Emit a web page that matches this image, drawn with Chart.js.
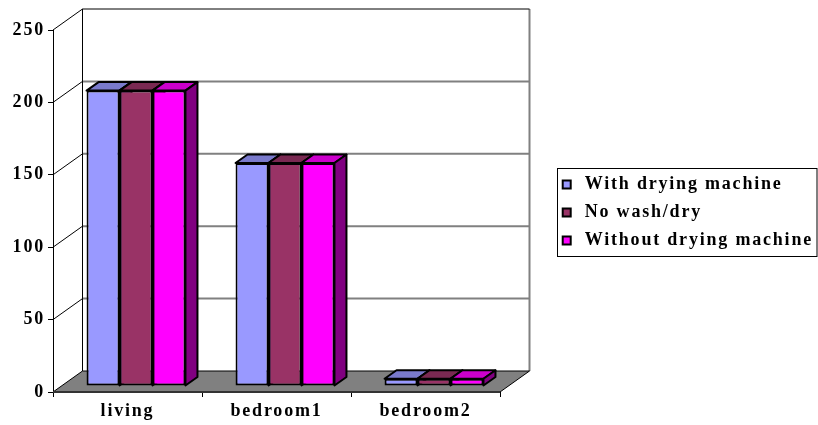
<!DOCTYPE html>
<html>
<head>
<meta charset="utf-8">
<script src="https://cdn.jsdelivr.net/npm/chart.js@4.4.1/dist/chart.umd.min.js"></script>
<style>
  html, body { margin: 0; padding: 0; background: #fff; }
  #wrap { width: 818px; height: 425px; }
</style>
</head>
<body>
<div id="wrap"><canvas id="chart" width="818" height="425"></canvas></div>
<script>
const categories = ['living', 'bedroom1', 'bedroom2'];
const seriesLabels = ['With drying machine', 'No wash/dry', 'Without drying machine'];
const withDrying = [204, 154, 5];
const noWashDry = [204, 154, 5];
const withoutDrying = [204, 154, 5];
const yTicks = [0, 50, 100, 150, 200, 250];

const frontColors = ['#9999FF', '#993366', '#FF00FF'];
const topColors = ['#7A7ACC', '#7A2952', '#CC00CC'];
const sideColors = ['#4C4C80', '#4C1933', '#800080'];

// oblique depth of the whole box, and where the bars sit inside it
const DEPTH_X = 29.5, DEPTH_Y = -21;
const BAR_SHIFT_X = 8.5, BAR_SHIFT_Y = -6;
const BAR_DEPTH_X = 12, BAR_DEPTH_Y = -8.5;
const SPACING = '1.8px';
const labelFont = { family: '"Liberation Serif", "Times New Roman", serif', size: 18, weight: 'bold' };

const line = (ctx, x1, y1, x2, y2) => {
  ctx.beginPath();
  ctx.moveTo(x1, y1);
  ctx.lineTo(x2, y2);
  ctx.stroke();
};

const poly = (ctx, pts, fill) => {
  ctx.beginPath();
  pts.forEach(([px, py], i) => (i ? ctx.lineTo(px, py) : ctx.moveTo(px, py)));
  ctx.closePath();
  ctx.fillStyle = fill;
  ctx.fill();
  ctx.stroke();
};

// wide letter spacing for every label
const spacingPlugin = {
  id: 'spacing',
  beforeUpdate(chart) { chart.ctx.letterSpacing = SPACING; },
  beforeLayout(chart) { chart.ctx.letterSpacing = SPACING; },
  beforeDraw(chart) { chart.ctx.letterSpacing = SPACING; }
};

// walls, floor and the top/side faces of the bars
const box3d = {
  id: 'box3d',
  beforeDatasetsDraw(chart) {
    const { ctx, chartArea: a, scales: { y } } = chart;
    const L = a.left, R = a.right, B = a.bottom;
    const bl = L + DEPTH_X, br = R + DEPTH_X;
    const bt = y.getPixelForValue(yTicks[yTicks.length - 1]) + DEPTH_Y;
    const bb = B + DEPTH_Y;

    ctx.save();
    ctx.fillStyle = '#fff';
    ctx.fillRect(bl, bt, br - bl, bb - bt);

    ctx.strokeStyle = '#808080';
    ctx.lineWidth = 2;
    yTicks.slice(1, -1).forEach(v => {
      const py = y.getPixelForValue(v) + DEPTH_Y;
      line(ctx, bl, py, br, py);
    });
    line(ctx, br, bt, br, bb);

    ctx.strokeStyle = '#000';
    ctx.lineWidth = 1;
    line(ctx, bl, bt, br, bt);
    line(ctx, bl, bt, bl, bb);
    yTicks.slice(1).forEach(v => {
      const py = y.getPixelForValue(v);
      line(ctx, L, py, L + DEPTH_X, py + DEPTH_Y);
    });

    // floor
    ctx.beginPath();
    ctx.moveTo(L, B);
    ctx.lineTo(R, B);
    ctx.lineTo(br, bb);
    ctx.lineTo(bl, bb);
    ctx.closePath();
    ctx.fillStyle = '#808080';
    ctx.fill();
    ctx.strokeStyle = '#000';
    ctx.stroke();
    ctx.strokeStyle = '#333';
    ctx.lineWidth = 2;
    line(ctx, L, B, R, B);

    ctx.lineWidth = 2;
    ctx.lineJoin = 'round';
    ctx.strokeStyle = '#000';
    categories.forEach((c, i) => {
      chart.data.datasets.forEach((ds, d) => {
        const bar = chart.getDatasetMeta(d).data[i];
        const x1 = bar.x - bar.width / 2 + BAR_SHIFT_X;
        const x2 = bar.x + bar.width / 2 + BAR_SHIFT_X;
        const top = bar.y + BAR_SHIFT_Y;
        const bot = bar.base + BAR_SHIFT_Y;
        poly(ctx, [[x1, top], [x2, top], [x2 + BAR_DEPTH_X, top + BAR_DEPTH_Y], [x1 + BAR_DEPTH_X, top + BAR_DEPTH_Y]], topColors[d]);
        poly(ctx, [[x2, top], [x2 + BAR_DEPTH_X, top + BAR_DEPTH_Y], [x2 + BAR_DEPTH_X, bot + BAR_DEPTH_Y], [x2, bot]], sideColors[d]);
      });
    });
    ctx.restore();

    // front faces come from Chart.js, pushed back into the box
    ctx.save();
    ctx.translate(BAR_SHIFT_X, BAR_SHIFT_Y);
  },
  afterDatasetsDraw(chart) {
    chart.ctx.restore();
  },
  afterDraw(chart) {
    const { ctx, legend } = chart;
    const hb = legend.legendHitBoxes;
    if (!hb || !hb.length) return;
    const last = hb[hb.length - 1];
    const left = Math.round(hb[0].left) - 0.5;
    const top = Math.round(hb[0].top) - 7.5;
    const bottom = Math.round(last.top + last.height) + 6.5;
    ctx.save();
    ctx.strokeStyle = '#000';
    ctx.lineWidth = 1;
    ctx.strokeRect(left, top, chart.width - 1 - left, bottom - top);
    ctx.restore();
  }
};

Chart.defaults.font.family = labelFont.family;
Chart.defaults.font.weight = 'bold';
Chart.defaults.font.size = 18;
Chart.defaults.color = '#000';

const seriesValues = [withDrying, noWashDry, withoutDrying];

new Chart(document.getElementById('chart'), {
  type: 'bar',
  data: {
    labels: categories,
    datasets: seriesLabels.map((label, d) => ({
      label,
      data: seriesValues[d],
      backgroundColor: frontColors[d],
      borderColor: '#000',
      borderWidth: 2,
      borderSkipped: false,
      categoryPercentage: 0.664,
      barPercentage: 1,
      clip: false
    }))
  },
  options: {
    responsive: false,
    animation: false,
    layout: { padding: { top: 0, right: -5, bottom: 0, left: 0 } },
    plugins: {
      tooltip: { enabled: false },
      title: {
        display: true,
        text: '',
        fullSize: false,
        font: { size: 10 },
        padding: { top: 18, bottom: 0 }
      },
      legend: {
        position: 'right',
        maxWidth: 320,
        labels: {
          usePointStyle: true,
          pointStyle: 'rect',
          boxWidth: 18,
          boxHeight: 8,
          padding: 10,
          font: labelFont
        }
      }
    },
    scales: {
      x: {
        grid: {
          display: true,
          offset: true,
          drawOnChartArea: false,
          drawTicks: true,
          tickLength: 5,
          color: '#000'
        },
        border: { display: true, color: '#000' },
        ticks: { padding: 4, font: labelFont },
        afterFit: s => { s.height = 33; }
      },
      y: {
        min: 0,
        max: 250,
        ticks: { stepSize: 50, padding: 3, font: labelFont },
        grid: {
          drawOnChartArea: false,
          drawTicks: true,
          tickLength: 5,
          color: '#000'
        },
        border: { display: true, color: '#000' },
        afterFit: s => { s.width = 53; }
      },
      // empty axis that keeps the legend clear of the back wall
      gap: {
        position: 'right',
        display: true,
        grid: { display: false },
        ticks: { display: false },
        border: { display: false },
        afterFit: s => {
          const lw = s.chart.legend ? s.chart.legend.width : 280;
          s.width = 823 - lw - 500;
        }
      }
    }
  },
  plugins: [spacingPlugin, box3d]
});
</script>
</body>
</html>
